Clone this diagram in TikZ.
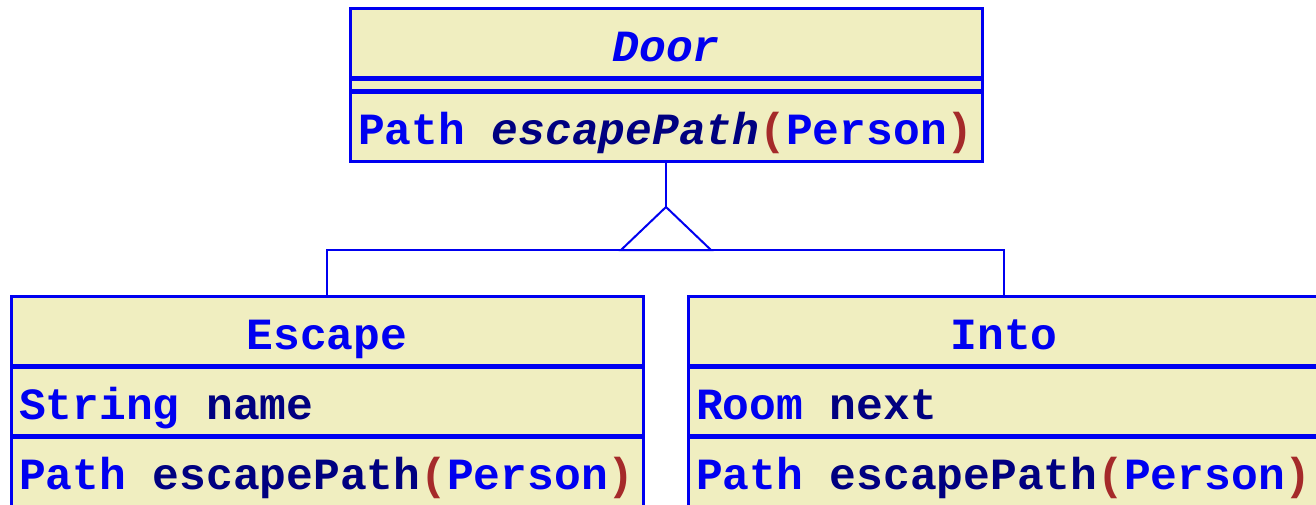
\documentclass[tikz,border=0pt]{standalone}
\usepackage{fontspec}
\setmainfont{Liberation Mono}
\definecolor{umlfill}{HTML}{F0EEC0}
\definecolor{umlblue}{HTML}{0000F0}
\definecolor{umlnavy}{HTML}{000080}
\definecolor{umlbrown}{HTML}{A52A2A}
\newcommand{\tb}[1]{\textcolor{umlblue}{#1}}
\newcommand{\tn}[1]{\textcolor{umlnavy}{#1}}
\newcommand{\tr}[1]{\textcolor{umlbrown}{#1}}
\newcommand{\msp}{\hspace*{0.6em}}
\tikzset{
  comp/.style={draw=umlblue, fill=umlfill, line width=3pt, minimum width=632pt,
    minimum height=70pt, inner sep=0pt, outer sep=0pt, anchor=north west, text height=36pt, text depth=0pt,
    font=\fontsize{44.6}{50}\selectfont\bfseries},
  umltitle/.style={comp, text=umlblue, align=center},
  member/.style={comp, inner xsep=8pt, text width=616pt, align=left},
  emptycomp/.style={comp, minimum height=13pt, text height=0pt},
  sepline/.style={draw=umlblue, line width=5pt},
  conn/.style={draw=umlblue, line width=2pt},
}
\begin{document}
\begin{tikzpicture}[x=1pt,y=-1pt]
\useasboundingbox (0,0) rectangle (1316,505);
\clip (0,0) rectangle (1316,505);
% Door
\node[umltitle] (doorT) at (350,9) {\itshape Door};
\node[emptycomp] (doorE) at (350,79) {};
\node[member] (doorM) at (350,92) {\tb{Path}\msp\tn{\itshape escapePath}\tr{(}\tb{Person}\tr{)}};
\draw[sepline] (doorT.south west) -- (doorT.south east);
\draw[sepline] (doorE.south west) -- (doorE.south east);
% Escape
\node[umltitle] (escT) at (11,296) {Escape};
\node[member] (escA) at (11,366) {\tb{String}\msp\tn{name}};
\node[member] (escM) at (11,436) {\tb{Path}\msp\tn{escapePath}\tr{(}\tb{Person}\tr{)}};
\draw[sepline] (escT.south west) -- (escT.south east);
\draw[sepline] (escA.south west) -- (escA.south east);
% Into
\node[umltitle] (intoT) at (688,296) {Into};
\node[member] (intoA) at (688,366) {\tb{Room}\msp\tn{next}};
\node[member] (intoM) at (688,436) {\tb{Path}\msp\tn{escapePath}\tr{(}\tb{Person}\tr{)}};
\draw[sepline] (intoT.south west) -- (intoT.south east);
\draw[sepline] (intoA.south west) -- (intoA.south east);
% generalization
\coordinate (apex) at (666,207);
\coordinate (bl) at (621,250);
\coordinate (br) at (711,250);
\draw[conn] (doorM.south) -- (apex);
\draw[conn] (apex) -- (bl) -- (br) -- cycle;
\draw[conn] (escT.north) -- (escT.north |- bl) -- (intoT.north |- bl) -- (intoT.north);
\end{tikzpicture}
\end{document}
